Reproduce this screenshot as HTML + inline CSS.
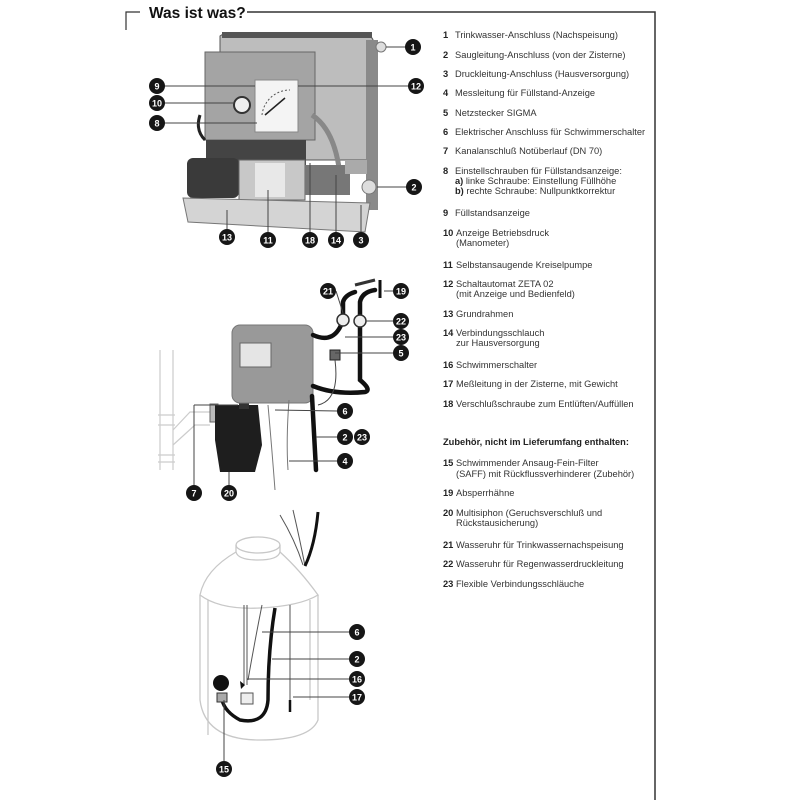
<!DOCTYPE html>
<html><head><meta charset="utf-8"><style>
body{margin:0;background:#fff;}
svg{display:block}
.t{font-family:"Liberation Sans",sans-serif;font-size:9.3px;fill:#333}
.n{font-family:"Liberation Sans",sans-serif;font-size:9.3px;font-weight:bold;fill:#222}
.c{font-family:"Liberation Sans",sans-serif;font-size:9px;font-weight:bold;fill:#fff;text-anchor:middle}
</style></head><body>
<svg width="800" height="800" viewBox="0 0 800 800">
<rect width="800" height="800" fill="#fff"/>
<path d="M126 30 V12 H140" stroke="#333" stroke-width="1.2" fill="none"/>
<path d="M247 12 H655 V800" stroke="#333" stroke-width="1.5" fill="none"/>
<text x="149" y="18" font-family="Liberation Sans,sans-serif" font-size="15.5" font-weight="bold" fill="#111">Was ist was?</text>

<path d="M220 36 Q225 32 235 33 L365 34 Q374 36 374 45 L375 160 L220 160 Z" fill="#bdbdbd" stroke="#555"/>
<rect x="222" y="32" width="150" height="6" fill="#555"/>
<rect x="366" y="40" width="12" height="170" fill="#8a8a8a"/>
<circle cx="381" cy="47" r="5" fill="#ddd" stroke="#777"/>
<rect x="205" y="52" width="110" height="88" fill="#a4a4a4" stroke="#666"/>
<rect x="255" y="80" width="43" height="52" fill="#f4f4f4" stroke="#888"/>
<path d="M262 115 A28 28 0 0 1 290 90" stroke="#555" fill="none" stroke-dasharray="2 2"/>
<line x1="265" y1="115" x2="285" y2="98" stroke="#222" stroke-width="1.5"/>
<circle cx="242" cy="105" r="8" fill="#eee" stroke="#333" stroke-width="2"/>
<path d="M200 115 Q195 130 205 140" stroke="#222" stroke-width="3" fill="none"/>
<path d="M312 115 Q335 130 340 175" stroke="#888" stroke-width="5" fill="none"/>
<rect x="206" y="140" width="100" height="25" fill="#444"/>
<rect x="187" y="158" width="52" height="40" rx="6" fill="#3a3a3a"/>
<rect x="239" y="160" width="66" height="40" fill="#c8c8c8" stroke="#666"/>
<rect x="255" y="163" width="30" height="34" fill="#e8e8e8"/>
<rect x="305" y="165" width="45" height="30" fill="#777"/>
<rect x="345" y="160" width="22" height="14" fill="#aaa"/>
<circle cx="369" cy="187" r="7" fill="#ddd" stroke="#777"/>
<path d="M183 198 L370 203 L365 232 L188 222 Z" fill="#d4d4d4" stroke="#777"/>
<g stroke="#444" stroke-width="1">
<line x1="386" y1="47" x2="410" y2="47"/><line x1="165" y1="86" x2="255" y2="86"/>
<line x1="298" y1="86" x2="410" y2="86"/><line x1="165" y1="103" x2="234" y2="103"/>
<line x1="165" y1="123" x2="257" y2="123"/><line x1="377" y1="187" x2="410" y2="187"/>
<line x1="361" y1="205" x2="361" y2="232"/><line x1="336" y1="175" x2="336" y2="232"/>
<line x1="310" y1="163" x2="310" y2="232"/><line x1="268" y1="190" x2="268" y2="232"/>
<line x1="227" y1="210" x2="227" y2="229"/>
</g>

<g stroke="#ccc" stroke-width="1.2" fill="none">
<path d="M160 350 V470 M173 350 V470 M158 415 H175 M158 425 H175 M158 455 H175 M158 462 H175"/>
<path d="M173 430 L190 412 H210 M173 445 L195 425 H210"/>
</g>
<rect x="210" y="404" width="8" height="18" fill="#bbb" stroke="#666"/>
<path d="M215 405 L258 405 L262 445 L255 472 L220 472 L215 440 Z" fill="#1e1e1e"/>
<rect x="239" y="395" width="10" height="14" fill="#333"/>
<rect x="232" y="325" width="81" height="78" rx="8" fill="#999" stroke="#777"/>
<rect x="240" y="343" width="31" height="24" fill="#e5e5e5" stroke="#666"/>
<g stroke="#111" stroke-width="4.5" fill="none" stroke-linecap="round">
<path d="M313 335 Q335 345 343 320 L343 302 Q345 295 355 292"/>
<path d="M313 386 Q335 395 365 392 Q372 390 360 380 L360 302 Q362 292 375 290"/>
<path d="M312 396 L316 470"/>
</g>
<line x1="380" y1="280" x2="380" y2="298" stroke="#111" stroke-width="3"/>
<path d="M355 285 L375 280" stroke="#333" stroke-width="3"/>
<circle cx="343" cy="320" r="6" fill="#eee" stroke="#333" stroke-width="1.5"/>
<circle cx="360" cy="321" r="6" fill="#eee" stroke="#333" stroke-width="1.5"/>
<rect x="330" y="350" width="10" height="10" fill="#666" stroke="#222"/>
<path d="M335 360 Q340 400 318 405" stroke="#444" fill="none"/>
<g stroke="#777" stroke-width="1" fill="none">
<path d="M268 405 Q272 450 275 490"/><path d="M289 400 Q286 440 288 470"/>
</g>
<g stroke="#444" stroke-width="1">
<line x1="336" y1="291" x2="343" y2="313"/><line x1="384" y1="291" x2="393" y2="291"/>
<line x1="366" y1="321" x2="393" y2="321"/><line x1="345" y1="337" x2="393" y2="337"/>
<line x1="335" y1="353" x2="393" y2="353"/><line x1="275" y1="410" x2="337" y2="411"/>
<line x1="316" y1="437" x2="337" y2="437"/><line x1="289" y1="461" x2="337" y2="461"/>
<line x1="194" y1="405" x2="194" y2="485"/><line x1="194" y1="405" x2="238" y2="405"/>
<line x1="229" y1="472" x2="229" y2="485"/>
</g>

<g stroke="#c8c8c8" stroke-width="1.3" fill="none">
<ellipse cx="258" cy="545" rx="22" ry="8"/>
<path d="M236 545 V552 Q238 560 258 560 Q278 560 280 552 V545"/>
<path d="M236 552 Q205 570 200 595 Q220 610 260 608 Q300 606 318 595 Q300 570 280 552"/>
<path d="M200 595 V700 Q205 740 260 740 Q310 740 318 720 V595"/>
<path d="M208 600 V735 M310 600 V700"/>
</g>
<g stroke="#555" stroke-width="1" fill="none">
<path d="M280 515 Q295 540 303 565"/><path d="M293 510 Q300 540 305 566"/>
<path d="M244 605 V685 M247 605 V685 M262 605 Q255 640 248 680"/>
<path d="M290 605 V700"/>
</g>
<path d="M318 512 Q315 545 305 566" stroke="#111" stroke-width="3" fill="none"/>
<path d="M275 608 Q268 650 268 700 Q266 725 240 720 Q225 712 222 700" stroke="#111" stroke-width="3.5" fill="none"/>
<circle cx="221" cy="683" r="8" fill="#111"/>
<rect x="217" y="693" width="10" height="9" fill="#aaa" stroke="#333"/>
<path d="M240 681 l5 4 l-4 4 Z" fill="#111"/>
<rect x="241" y="693" width="12" height="11" fill="#eee" stroke="#555"/>
<line x1="290" y1="700" x2="290" y2="712" stroke="#111" stroke-width="2.5"/>
<g stroke="#444" stroke-width="1">
<line x1="262" y1="632" x2="349" y2="632"/><line x1="272" y1="659" x2="349" y2="659"/>
<line x1="247" y1="679" x2="349" y2="679"/><line x1="293" y1="697" x2="349" y2="697"/>
<line x1="224" y1="700" x2="224" y2="761"/>
</g>

<g fill="#161616">
<circle cx="413" cy="47" r="8"/><circle cx="414" cy="187" r="8"/><circle cx="361" cy="240" r="8"/>
<circle cx="336" cy="240" r="8"/><circle cx="310" cy="240" r="8"/><circle cx="268" cy="240" r="8"/>
<circle cx="227" cy="237" r="8"/><circle cx="157" cy="86" r="8"/><circle cx="157" cy="103" r="8"/>
<circle cx="157" cy="123" r="8"/><circle cx="416" cy="86" r="8"/>
<circle cx="328" cy="291" r="8"/><circle cx="401" cy="291" r="8"/><circle cx="401" cy="321" r="8"/>
<circle cx="401" cy="337" r="8"/><circle cx="401" cy="353" r="8"/><circle cx="345" cy="411" r="8"/>
<circle cx="345" cy="437" r="8"/><circle cx="362" cy="437" r="8"/><circle cx="345" cy="461" r="8"/>
<circle cx="194" cy="493" r="8"/><circle cx="229" cy="493" r="8"/>
<circle cx="357" cy="632" r="8"/><circle cx="357" cy="659" r="8"/><circle cx="357" cy="679" r="8"/>
<circle cx="357" cy="697" r="8"/><circle cx="224" cy="769" r="8"/>
</g>
<g class="c">
<text x="413" y="50.5">1</text><text x="414" y="190.5">2</text><text x="361" y="243.5">3</text>
<text x="336" y="243.5">14</text><text x="310" y="243.5">18</text><text x="268" y="243.5">11</text>
<text x="227" y="240.5">13</text><text x="157" y="89.5">9</text><text x="157" y="106.5">10</text>
<text x="157" y="126.5">8</text><text x="416" y="89.5">12</text>
<text x="328" y="294.5">21</text><text x="401" y="294.5">19</text><text x="401" y="324.5">22</text>
<text x="401" y="340.5">23</text><text x="401" y="356.5">5</text><text x="345" y="414.5">6</text>
<text x="345" y="440.5">2</text><text x="362" y="440.5">23</text><text x="345" y="464.5">4</text>
<text x="194" y="496.5">7</text><text x="229" y="496.5">20</text>
<text x="357" y="635.5">6</text><text x="357" y="662.5">2</text><text x="357" y="682.5">16</text>
<text x="357" y="700.5">17</text><text x="224" y="772.5">15</text>
</g>

<g>
<text class="n" x="443" y="38">1</text><text class="t" x="455" y="38">Trinkwasser-Anschluss (Nachspeisung)</text>
<text class="n" x="443" y="58">2</text><text class="t" x="455" y="58">Saugleitung-Anschluss (von der Zisterne)</text>
<text class="n" x="443" y="77">3</text><text class="t" x="455" y="77">Druckleitung-Anschluss (Hausversorgung)</text>
<text class="n" x="443" y="96">4</text><text class="t" x="455" y="96">Messleitung für Füllstand-Anzeige</text>
<text class="n" x="443" y="116">5</text><text class="t" x="455" y="116">Netzstecker SIGMA</text>
<text class="n" x="443" y="135">6</text><text class="t" x="455" y="135">Elektrischer Anschluss für Schwimmerschalter</text>
<text class="n" x="443" y="154">7</text><text class="t" x="455" y="154">Kanalanschluß Notüberlauf (DN 70)</text>
<text class="n" x="443" y="174">8</text><text class="t" x="455" y="174">Einstellschrauben für Füllstandsanzeige:</text>
<text class="t" x="455" y="184"><tspan font-weight="bold" fill="#222">a)</tspan> linke Schraube:  Einstellung Füllhöhe</text>
<text class="t" x="455" y="194"><tspan font-weight="bold" fill="#222">b)</tspan> rechte Schraube:  Nullpunktkorrektur</text>
<text class="n" x="443" y="216">9</text><text class="t" x="455" y="216">Füllstandsanzeige</text>
<text class="n" x="443" y="236">10</text><text class="t" x="456" y="236">Anzeige Betriebsdruck</text>
<text class="t" x="456" y="246">(Manometer)</text>
<text class="n" x="443" y="268">11</text><text class="t" x="456" y="268">Selbstansaugende Kreiselpumpe</text>
<text class="n" x="443" y="287">12</text><text class="t" x="456" y="287">Schaltautomat ZETA 02</text>
<text class="t" x="456" y="297">(mit Anzeige und Bedienfeld)</text>
<text class="n" x="443" y="317">13</text><text class="t" x="456" y="317">Grundrahmen</text>
<text class="n" x="443" y="336">14</text><text class="t" x="456" y="336">Verbindungsschlauch</text>
<text class="t" x="456" y="346">zur Hausversorgung</text>
<text class="n" x="443" y="368">16</text><text class="t" x="456" y="368">Schwimmerschalter</text>
<text class="n" x="443" y="387">17</text><text class="t" x="456" y="387">Meßleitung in der Zisterne, mit Gewicht</text>
<text class="n" x="443" y="407">18</text><text class="t" x="456" y="407">Verschlußschraube zum Entlüften/Auffüllen</text>
<text class="n" x="443" y="445">Zubehör, nicht im Lieferumfang enthalten:</text>
<text class="n" x="443" y="466">15</text><text class="t" x="456" y="466">Schwimmender Ansaug-Fein-Filter</text>
<text class="t" x="456" y="477">(SAFF) mit Rückflussverhinderer (Zubehör)</text>
<text class="n" x="443" y="496">19</text><text class="t" x="456" y="496">Absperrhähne</text>
<text class="n" x="443" y="516">20</text><text class="t" x="456" y="516">Multisiphon (Geruchsverschluß und</text>
<text class="t" x="456" y="526">Rückstausicherung)</text>
<text class="n" x="443" y="548">21</text><text class="t" x="456" y="548">Wasseruhr für Trinkwassernachspeisung</text>
<text class="n" x="443" y="567">22</text><text class="t" x="456" y="567">Wasseruhr für Regenwasserdruckleitung</text>
<text class="n" x="443" y="587">23</text><text class="t" x="456" y="587">Flexible Verbindungsschläuche</text>
</g>
</svg>
</body></html>
